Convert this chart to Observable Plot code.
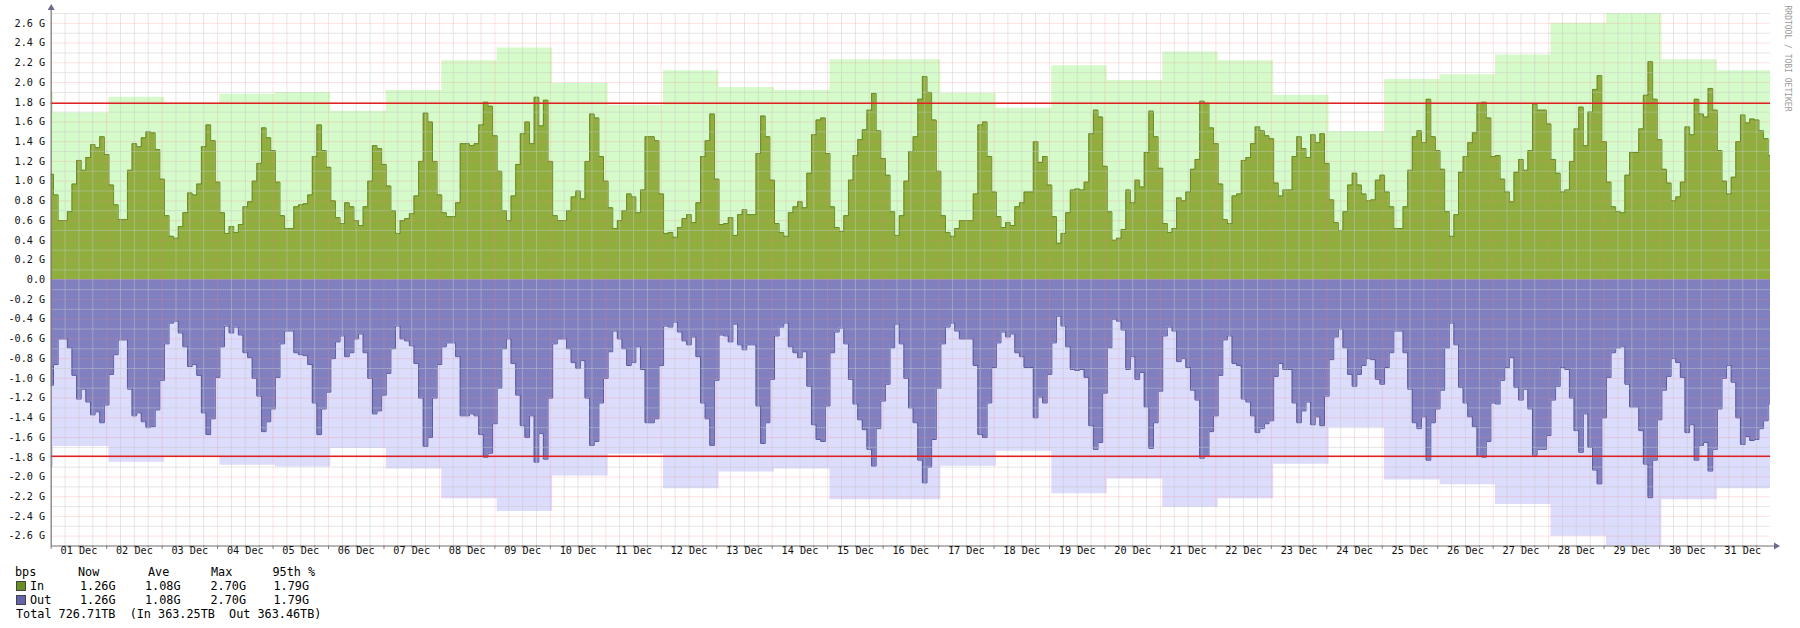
<!DOCTYPE html>
<html><head><meta charset="utf-8">
<script src="https://cdn.jsdelivr.net/npm/d3@7"></script>
<script src="https://cdn.jsdelivr.net/npm/@observablehq/plot@0.6"></script>
<style>
body{margin:0;background:#fff;font-family:"DejaVu Sans Mono",monospace;}
#wrap{position:relative;width:1800px;height:628px;overflow:hidden;}
#legend{position:absolute;left:0;top:565px;width:1800px;height:63px;font-size:11.8px;color:#000;}
#legend span{position:absolute;white-space:pre;line-height:14px;}
#legend .sw{position:absolute;width:8px;height:8px;border:1px solid #444;}
</style></head><body>
<div id="wrap"><div id="chart"></div><div id="legend"></div></div>
<script>
// ---- data ----
const dayLabels = ["01 Dec","02 Dec","03 Dec","04 Dec","05 Dec","06 Dec","07 Dec","08 Dec","09 Dec","10 Dec","11 Dec","12 Dec","13 Dec","14 Dec","15 Dec","16 Dec","17 Dec","18 Dec","19 Dec","20 Dec","21 Dec","22 Dec","23 Dec","24 Dec","25 Dec","26 Dec","27 Dec","28 Dec","29 Dec","30 Dec","31 Dec"];
const yTickValues = [-2.6,-2.4,-2.2,-2.0,-1.8,-1.6,-1.4,-1.2,-1.0,-0.8,-0.6,-0.4,-0.2,0,0.2,0.4,0.6,0.8,1.0,1.2,1.4,1.6,1.8,2.0,2.2,2.4,2.6];
const yTickLabels = ["-2.6 G","-2.4 G","-2.2 G","-2.0 G","-1.8 G","-1.6 G","-1.4 G","-1.2 G","-1.0 G","-0.8 G","-0.6 G","-0.4 G","-0.2 G","0.0","0.2 G","0.4 G","0.6 G","0.8 G","1.0 G","1.2 G","1.4 G","1.6 G","1.8 G","2.0 G","2.2 G","2.4 G","2.6 G"];

// 2-hour averages in Gbit/s, first sample starts 30 Nov 23:00
const inValues = [1.07,
0.86,0.60,0.60,0.69,0.97,1.21,1.11,1.24,1.37,1.34,1.45,1.27,
0.96,0.76,0.61,0.61,1.11,1.38,1.35,1.44,1.50,1.49,1.32,1.02,
0.65,0.44,0.42,0.54,0.68,0.88,0.86,0.97,1.35,1.57,1.41,0.99,
0.68,0.47,0.54,0.48,0.56,0.74,0.79,1.00,1.18,1.54,1.44,1.31,
0.99,0.65,0.52,0.52,0.74,0.76,0.77,0.86,1.25,1.57,1.31,1.14,
0.80,0.63,0.57,0.78,0.74,0.60,0.55,0.74,1.00,1.36,1.33,1.17,
0.95,0.70,0.47,0.60,0.62,0.67,0.85,1.20,1.69,1.60,1.20,0.86,
0.68,0.64,0.64,0.78,1.38,1.38,1.36,1.38,1.57,1.80,1.76,1.46,
1.10,0.70,0.60,0.85,1.17,1.48,1.60,1.38,1.85,1.56,1.82,1.20,
0.65,0.60,0.60,0.70,0.84,0.90,0.82,1.20,1.68,1.64,1.25,1.00,
0.73,0.52,0.60,0.70,0.87,0.84,0.68,0.91,1.45,1.45,1.41,0.87,
0.47,0.48,0.43,0.53,0.62,0.66,0.58,0.78,1.25,1.41,1.68,1.02,
0.56,0.57,0.63,0.45,0.66,0.71,0.66,0.66,1.28,1.66,1.45,1.01,
0.57,0.48,0.44,0.68,0.74,0.79,0.73,1.08,1.47,1.62,1.64,1.28,
0.74,0.53,0.49,0.65,1.01,1.26,1.42,1.52,1.72,1.89,1.51,1.23,
1.06,0.69,0.45,0.65,1.00,1.30,1.45,1.83,2.06,1.90,1.62,1.10,
0.65,0.48,0.44,0.52,0.60,0.60,0.60,0.87,1.57,1.60,1.25,0.89,
0.64,0.53,0.58,0.55,0.74,0.78,0.89,0.89,1.40,1.19,1.25,0.96,
0.64,0.37,0.47,0.68,0.91,0.92,0.91,0.99,1.48,1.72,1.65,1.15,
0.69,0.40,0.42,0.51,0.91,0.78,1.01,0.94,1.29,1.71,1.45,1.13,
0.57,0.48,0.52,0.83,0.80,0.89,1.12,1.22,1.81,1.79,1.54,1.38,
0.97,0.61,0.57,0.85,0.87,1.21,1.24,1.38,1.55,1.51,1.46,1.43,
0.98,0.85,0.91,0.91,1.25,1.45,1.33,1.24,1.47,1.39,1.48,1.18,
0.81,0.58,0.50,0.69,0.96,1.08,0.96,0.87,0.80,0.81,1.01,1.06,
0.89,0.74,0.52,0.52,0.74,1.11,1.45,1.51,1.39,1.83,1.45,1.31,
1.12,0.69,0.44,0.66,1.09,1.25,1.39,1.49,1.79,1.80,1.64,1.25,
1.26,1.02,0.89,0.79,1.09,1.22,1.11,1.31,1.78,1.72,1.72,1.58,
1.22,1.08,0.89,0.91,1.20,1.53,1.75,1.36,1.70,1.93,2.07,1.40,
0.99,0.74,0.69,0.68,1.06,1.29,1.29,1.53,1.87,2.21,1.83,1.42,
1.12,0.98,0.80,0.84,0.99,1.55,1.47,1.83,1.68,1.65,1.94,1.72,
1.31,1.00,0.87,1.04,1.40,1.67,1.59,1.63,1.62,1.51,1.43,1.26];
// outbound traffic is the same sequence (legend stats identical), drawn below zero
const outValues = inValues;

// daily maxima (shaded band), each from 01:00 to 01:00; first entry = 30 Nov
const inDailyMax = [1.90,1.69,1.85,1.79,1.88,1.90,1.71,1.92,2.22,2.35,1.99,1.77,2.12,1.95,1.92,2.23,2.23,1.89,1.74,2.17,2.02,2.31,2.22,1.87,1.50,2.03,2.08,2.28,2.60,2.70,2.23,2.12];
const outDailyMax = inDailyMax;
const pct95 = 1.79;

const legendHeader = ["bps","Now","Ave","Max","95th %"];
const legendIn = ["In","1.26G","1.08G","2.70G","1.79G"];
const legendOut = ["Out","1.26G","1.08G","2.70G","1.79G"];
const totalLine = "Total 726.71TB  (In 363.25TB  Out 363.46TB)";

// ---- build tables ----
const H = 3600e3;
const T0 = Date.UTC(2013, 11, 1);
const TEND = Date.UTC(2014, 0, 1);
function stepRows(vals, startOffsetH, stepH) {
  const rows = vals.map((v, i) => ({t: new Date(T0 + (startOffsetH + i * stepH) * H), v}));
  rows.push({t: new Date(T0 + (startOffsetH + vals.length * stepH) * H), v: vals[vals.length - 1]});
  return rows;
}
const inRows = stepRows(inValues, -1, 2);
const outRows = stepRows(outValues, -1, 2);
const inMaxRows = stepRows(inDailyMax, -23, 24);
const outMaxRows = stepRows(outDailyMax, -23, 24);

const midnights = d3.utcDay.range(new Date(T0), new Date(TEND));
const sixHours = d3.utcHour.every(6).range(new Date(T0), new Date(TEND)).filter(d => d.getUTCHours() !== 0);
const yMajor = d3.range(-13, 14).map(i => i * 0.2);
const yMinor = d3.range(-13, 14).map(i => i * 0.2 + 0.1).concat([-2.7]).filter(v => v <= 2.71);
const noons = dayLabels.map((_, i) => new Date(T0 + (i * 24 + 12) * H));

const minorStyle = {stroke: "#c8c8c8", strokeOpacity: 0.9, strokeDasharray: "1,1", strokeWidth: 1};
const majorStyle = {stroke: "#ff8080", strokeOpacity: 0.45, strokeDasharray: "1,1", strokeWidth: 1};
const axisColor = "#7a7a7a";

const chart = Plot.plot({
  width: 1800, height: 565,
  marginLeft: 50.7, marginRight: 30, marginTop: 13, marginBottom: 19.5,
  x: {type: "utc", domain: [new Date(T0), new Date(TEND)], axis: null},
  y: {domain: [-2.7, 2.7], axis: null},
  style: {fontFamily: "DejaVu Sans Mono, monospace", background: "white", overflow: "visible"},
  marks: [
    Plot.areaY(inMaxRows, {x: "t", y: "v", curve: "step-after", fill: "#d5fbca", clip: true}),
    Plot.areaY(outMaxRows, {x: "t", y: d => -d.v, curve: "step-after", fill: "#dcdcfc", clip: true}),
    Plot.areaY(inRows, {x: "t", y: "v", curve: "step-after", fill: "#8fae3e", clip: true}),
    Plot.areaY(outRows, {x: "t", y: d => -d.v, curve: "step-after", fill: "#8080c0", clip: true}),
    Plot.lineY(inRows, {x: "t", y: "v", curve: "step-after", stroke: "#6a8a26", strokeWidth: 1, clip: true}),
    Plot.lineY(outRows, {x: "t", y: d => -d.v, curve: "step-after", stroke: "#5a5aa0", strokeWidth: 1, clip: true}),
    // grid
    Plot.ruleX(sixHours, {y1: -2.7, y2: 2.7, ...minorStyle}),
    Plot.ruleY(yMinor, {...minorStyle}),
    Plot.ruleX(midnights, {y1: -2.7, y2: 2.7, ...majorStyle}),
    Plot.ruleY(yMajor, {...majorStyle}),
    // 95th percentile
    Plot.ruleY([pct95, -pct95], {stroke: "#dd2222", strokeWidth: 1.5}),
    // axes
    Plot.ruleX(sixHours, {y1: -2.7, y2: -2.72, stroke: axisColor}),
    Plot.ruleX(midnights, {y1: -2.7, y2: -2.735, stroke: axisColor}),
    Plot.ruleX([new Date(T0)], {y1: -2.7, y2: 2.74, stroke: axisColor, strokeWidth: 1.2}),
    Plot.ruleY([-2.7], {x1: new Date(T0), x2: new Date(TEND + 2 * H), stroke: axisColor, strokeWidth: 1.2}),
    Plot.dot([{t: new Date(T0), v: 2.755}], {x: "t", y: "v", symbol: "triangle", r: 2.6, fill: "#6a6a90", stroke: null}),
    Plot.dot([{t: new Date(TEND + 2.4 * H), v: -2.7}], {x: "t", y: "v", symbol: "triangle", r: 2.6, rotate: 90, fill: "#6a6a90", stroke: null}),
    // tick labels
    Plot.text(yTickLabels, {text: d => d, y: (d, i) => yTickValues[i], frameAnchor: "left", textAnchor: "end", dx: -6, fontSize: 10.2, fill: "#111"}),
    Plot.text(dayLabels, {text: d => d, x: (d, i) => noons[i], frameAnchor: "bottom", dy: 8, fontSize: 10.2, fill: "#111"}),
    // watermark
    Plot.text(["RRDTOOL / TOBI OETIKER"], {text: d => d, frameAnchor: "top-right", dx: 20, dy: -8, rotate: 90, textAnchor: "start", fontSize: 8, fill: "#9a9a9a"})
  ]
});
document.getElementById("chart").appendChild(chart);

// ---- legend ----
const lg = document.getElementById("legend");
function put(text, x, row) {
  const s = document.createElement("span");
  s.textContent = text;
  s.style.left = x + "px";
  s.style.top = (row * 14) + "px";
  lg.appendChild(s);
}
function swatch(color, row) {
  const d = document.createElement("div");
  d.className = "sw";
  d.style.left = "16px";
  d.style.top = (row * 14 + 2) + "px";
  d.style.background = color;
  lg.appendChild(d);
}
const colX = [15, 78, 148, 211, 272.5];
const valX = [30, 80, 145, 210.5, 273.5];
legendHeader.forEach((t, i) => put(t, colX[i], 0));
swatch("#6b8e23", 1);
legendIn.forEach((t, i) => put(t, valX[i], 1));
swatch("#6464aa", 2);
legendOut.forEach((t, i) => put(t, valX[i], 2));
put(totalLine, 16, 3);
</script>
</body></html>
